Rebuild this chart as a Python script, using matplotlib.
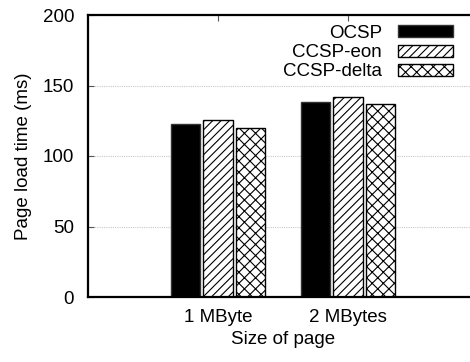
import matplotlib
matplotlib.use("Agg")
import matplotlib.pyplot as plt
import numpy as np

categories = ["1 MByte", "2 MBytes"]
series_names = ["OCSP", "CCSP-eon", "CCSP-delta"]
ocsp = [122.7, 138.5]
ccsp_eon = [125.5, 142.0]
ccsp_delta = [120.1, 136.7]
yticks = [0, 50, 100, 150, 200]

plt.rcParams['font.family'] = ['Liberation Sans', 'DejaVu Sans']
plt.rcParams['hatch.linewidth'] = 0.8

fig = plt.figure(figsize=(4.7, 3.62), dpi=100)
L, T, B, R = 88, 15, 297, 478
W, H = 470, 362
ax = fig.add_axes([L / W, 1 - B / H, (R - L) / W, (B - T) / H])

x = np.arange(len(categories))
bw = 0.23
off = 0.25
styles = [
    dict(facecolor="black", edgecolor="#333333", hatch=None),
    dict(facecolor="white", edgecolor="black", hatch="////"),
    dict(facecolor="white", edgecolor="black", hatch="xxx"),
]
for i, (vals, name, st) in enumerate(zip([ocsp, ccsp_eon, ccsp_delta], series_names, styles)):
    ax.bar(x + (i - 1) * off, vals, bw, label=name, linewidth=1.0, zorder=2, **st)

ax.set_xlim(-1, 2)
ax.set_ylim(0, 200)
ax.set_yticks(yticks)
ax.set_xticks(x)
ax.set_xticklabels(categories)
ax.grid(axis="y", color="#c8c8c8", linestyle=(0, (1, 1)), linewidth=0.8, zorder=0)
ax.set_axisbelow(True)
for s in ax.spines.values():
    s.set_linewidth(1.6)
ax.tick_params(axis="both", direction="in", labelsize=13.5, colors="#555555", labelcolor="black")
ax.tick_params(axis="x", bottom=False, top=True, length=4, pad=9)
ax.tick_params(axis="y", left=True, right=False, length=4, pad=10)

ax.set_ylabel("Page load time (ms)", fontsize=13.5, labelpad=8)
ax.set_xlabel("Size of page", fontsize=13.5, labelpad=3)

ax.legend(loc="upper right", bbox_to_anchor=(453 / W, 1 - 25 / H), bbox_transform=fig.transFigure,
          frameon=False, markerfirst=False, fontsize=13.5, handlelength=2.95, handleheight=0.6,
          handletextpad=0.85, labelspacing=0.12, borderaxespad=0, borderpad=0)

fig.savefig("out.png", dpi=100)
